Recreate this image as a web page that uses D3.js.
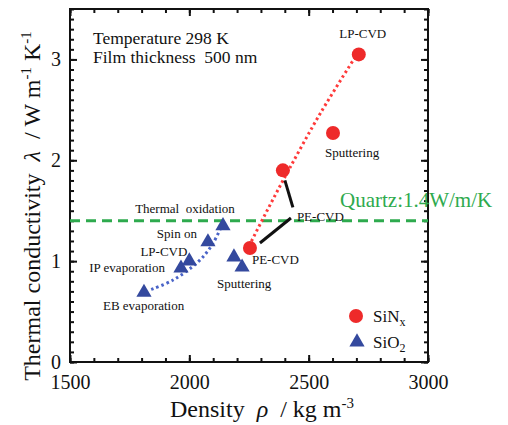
<!DOCTYPE html>
<html><head><meta charset="utf-8">
<script src="https://cdn.jsdelivr.net/npm/d3@7"></script>
<style>
body{margin:0;background:#fff}
text{font-family:"Liberation Serif","Times New Roman",serif;fill:#111}
</style>
</head><body>
<svg id="c" width="508" height="425"></svg>
<script>
// ---- data ----
const sinxLabels = ["LP-CVD", "Sputtering", "PE-CVD", "PE-CVD"];
const sinxDensity = [2710, 2602, 2392, 2254];
const sinxConductivity = [3.05, 2.27, 1.90, 1.13];

const sio2Labels = ["EB evaporation", "IP evaporation", "LP-CVD", "Spin on", "Thermal  oxidation", "PE-CVD", "Sputtering"];
const sio2Density = [1810, 1965, 2000, 2078, 2141, 2187, 2221];
const sio2Conductivity = [0.69, 0.93, 1.00, 1.19, 1.35, 1.04, 0.94];

const sinxTrendDensity = [2250, 2330, 2420, 2550, 2710];
const sinxTrendConductivity = [1.15, 1.52, 1.92, 2.47, 3.08];
const sio2TrendDensity = [1840, 1930, 2035, 2095, 2145];
const sio2TrendConductivity = [0.72, 0.81, 0.99, 1.16, 1.40];

const quartzConductivity = 1.4;
const quartzLabel = "Quartz:1.4W/m/K";
const xTicks = [1500, 2000, 2500, 3000];
const yTicks = [0, 1, 2, 3];
const infoLines = ["Temperature 298 K", "Film thickness  500 nm"];

// ---- layout / style ----
const RED = "#ee2a2a", BLUE = "#34499e", GREEN = "#2eaa4e";
const FONT = '"Liberation Serif","Times New Roman",serif';
const svg = d3.select("#c");
const x = d3.scaleLinear().domain([1500, 3000]).range([70, 428]);
const y = d3.scaleLinear().domain([0, 3.5]).range([362, 9]);

// label offsets (pixels, relative to point) [dx, dy, anchor]
const sinxLabelPos = [[4, -16, "middle"], [-8, 24, "start"], [14, 51, "start"], null];
const sio2LabelPos = [[-41, 18, "start"], [-16, 4, "end"], [-2, -5, "end"], [-11, -4, "end"], [-38, -13, "middle"], [18, 7, "start"], [-25, 21, "start"]];
// callout lines for the shared SiNx PE-CVD label: [pointIndex, dx1, dy1, dx2, dy2]
const callouts = [[2, 2, 10, 10, 37], [3, 10, -5, 41, -30]];

// axes (ticks inward)
function styleAxis(g) {
  g.attr("font-family", null).attr("font-size", null);
  g.select(".domain").remove();
  g.selectAll(".tick line").attr("stroke", "#111").attr("stroke-width", 2);
  g.selectAll(".tick text").attr("font-size", 20).attr("fill", "#111").style("font-family", FONT);
}
const minorX = d3.range(1500, 3001, 100), minorY = d3.range(0, 3.501, 0.1);
[[d3.axisBottom, 362, true], [d3.axisTop, 9, false]].forEach(([ax, ty, lab]) => {
  svg.append("g").attr("transform", `translate(0,${ty})`)
    .call(ax(x).tickValues(minorX).tickSize(-4).tickFormat("")).call(styleAxis);
  svg.append("g").attr("transform", `translate(0,${ty})`)
    .call(ax(x).tickValues(xTicks).tickSize(-7).tickPadding(13).tickFormat(lab ? d3.format("d") : "")).call(styleAxis);
});
[[d3.axisLeft, 70, true], [d3.axisRight, 428, false]].forEach(([ax, tx, lab]) => {
  svg.append("g").attr("transform", `translate(${tx},0)`)
    .call(ax(y).tickValues(minorY).tickSize(-4).tickFormat("")).call(styleAxis);
  svg.append("g").attr("transform", `translate(${tx},0)`)
    .call(ax(y).tickValues(yTicks).tickSize(-7).tickPadding(9).tickFormat(lab ? d3.format("d") : "")).call(styleAxis);
});
svg.append("rect").attr("x", 70).attr("y", 9).attr("width", 358).attr("height", 353)
  .attr("fill", "none").attr("stroke", "#111").attr("stroke-width", 2);

// axis titles
const yl = svg.append("text").attr("transform", "translate(40,206) rotate(-90)")
  .attr("text-anchor", "middle").attr("font-size", 24).attr("xml:space", "preserve");
yl.append("tspan").text("Thermal conductivity  ");
yl.append("tspan").attr("font-style", "italic").text("λ");
yl.append("tspan").text("  / W m");
yl.append("tspan").attr("font-size", 15).attr("dy", -9).text("-1");
yl.append("tspan").attr("dy", 9).text(" K");
yl.append("tspan").attr("font-size", 15).attr("dy", -9).text("-1");

const xl = svg.append("text").attr("x", 262).attr("y", 417)
  .attr("text-anchor", "middle").attr("font-size", 24).attr("xml:space", "preserve");
xl.append("tspan").text("Density  ");
xl.append("tspan").attr("font-style", "italic").text("ρ");
xl.append("tspan").text("  / kg m");
xl.append("tspan").attr("font-size", 15).attr("dy", -9).text("-3");

// info text
svg.append("g").selectAll("text").data(infoLines).join("text")
  .attr("x", 93).attr("y", (d, i) => 43.5 + i * 19.5).attr("font-size", 17.5)
  .attr("xml:space", "preserve").text(d => d);

// quartz line
svg.append("line").attr("x1", x(1500)).attr("x2", x(3000))
  .attr("y1", y(quartzConductivity)).attr("y2", y(quartzConductivity))
  .attr("stroke", GREEN).attr("stroke-width", 3).attr("stroke-dasharray", "10,6");
svg.append("text").attr("x", 340).attr("y", y(quartzConductivity) - 14)
  .attr("font-size", 21).style("fill", GREEN).text(quartzLabel);

// trend lines
const line = d3.line().x(d => x(d[0])).y(d => y(d[1])).curve(d3.curveCatmullRom);
svg.append("path").attr("d", line(d3.zip(sio2TrendDensity, sio2TrendConductivity)))
  .attr("fill", "none").attr("stroke", "#4a64c8").attr("stroke-width", 3).attr("stroke-dasharray", "2.5,3");
svg.append("path").attr("d", line(d3.zip(sinxTrendDensity, sinxTrendConductivity)))
  .attr("fill", "none").attr("stroke", "#ff3a3a").attr("stroke-width", 3).attr("stroke-dasharray", "2.5,3");

// callouts
svg.append("g").selectAll("line").data(callouts).join("line")
  .attr("x1", d => x(sinxDensity[d[0]]) + d[1]).attr("y1", d => y(sinxConductivity[d[0]]) + d[2])
  .attr("x2", d => x(sinxDensity[d[0]]) + d[3]).attr("y2", d => y(sinxConductivity[d[0]]) + d[4])
  .attr("stroke", "#111").attr("stroke-width", 3);

// points
const tri = d3.symbol().type(d3.symbolTriangle).size(100);
svg.append("g").selectAll("path").data(d3.range(sio2Density.length)).join("path")
  .attr("d", tri).attr("transform", i => `translate(${x(sio2Density[i])},${y(sio2Conductivity[i])})`)
  .attr("fill", BLUE);
svg.append("g").selectAll("circle").data(d3.range(sinxDensity.length)).join("circle")
  .attr("cx", i => x(sinxDensity[i])).attr("cy", i => y(sinxConductivity[i])).attr("r", 7)
  .attr("fill", RED);

// point labels
function labels(lbls, dens, cond, pos) {
  svg.append("g").selectAll("text").data(d3.range(lbls.length).filter(i => pos[i])).join("text")
    .attr("x", i => x(dens[i]) + pos[i][0]).attr("y", i => y(cond[i]) + pos[i][1])
    .attr("text-anchor", i => pos[i][2]).attr("font-size", 13).attr("xml:space", "preserve")
    .text(i => lbls[i]);
}
labels(sinxLabels, sinxDensity, sinxConductivity, sinxLabelPos);
labels(sio2Labels, sio2Density, sio2Conductivity, sio2LabelPos);

// legend
const lg = svg.append("g");
lg.append("circle").attr("cx", 356).attr("cy", 316).attr("r", 7).attr("fill", RED);
lg.append("path").attr("d", tri).attr("transform", "translate(357,342)").attr("fill", BLUE);
const t1 = lg.append("text").attr("x", 373).attr("y", 322).attr("font-size", 17);
t1.append("tspan").text("SiN"); t1.append("tspan").attr("font-size", 12).attr("dy", 4).text("x");
const t2 = lg.append("text").attr("x", 373).attr("y", 348).attr("font-size", 17);
t2.append("tspan").text("SiO"); t2.append("tspan").attr("font-size", 12).attr("dy", 4).text("2");
</script>
</body></html>
